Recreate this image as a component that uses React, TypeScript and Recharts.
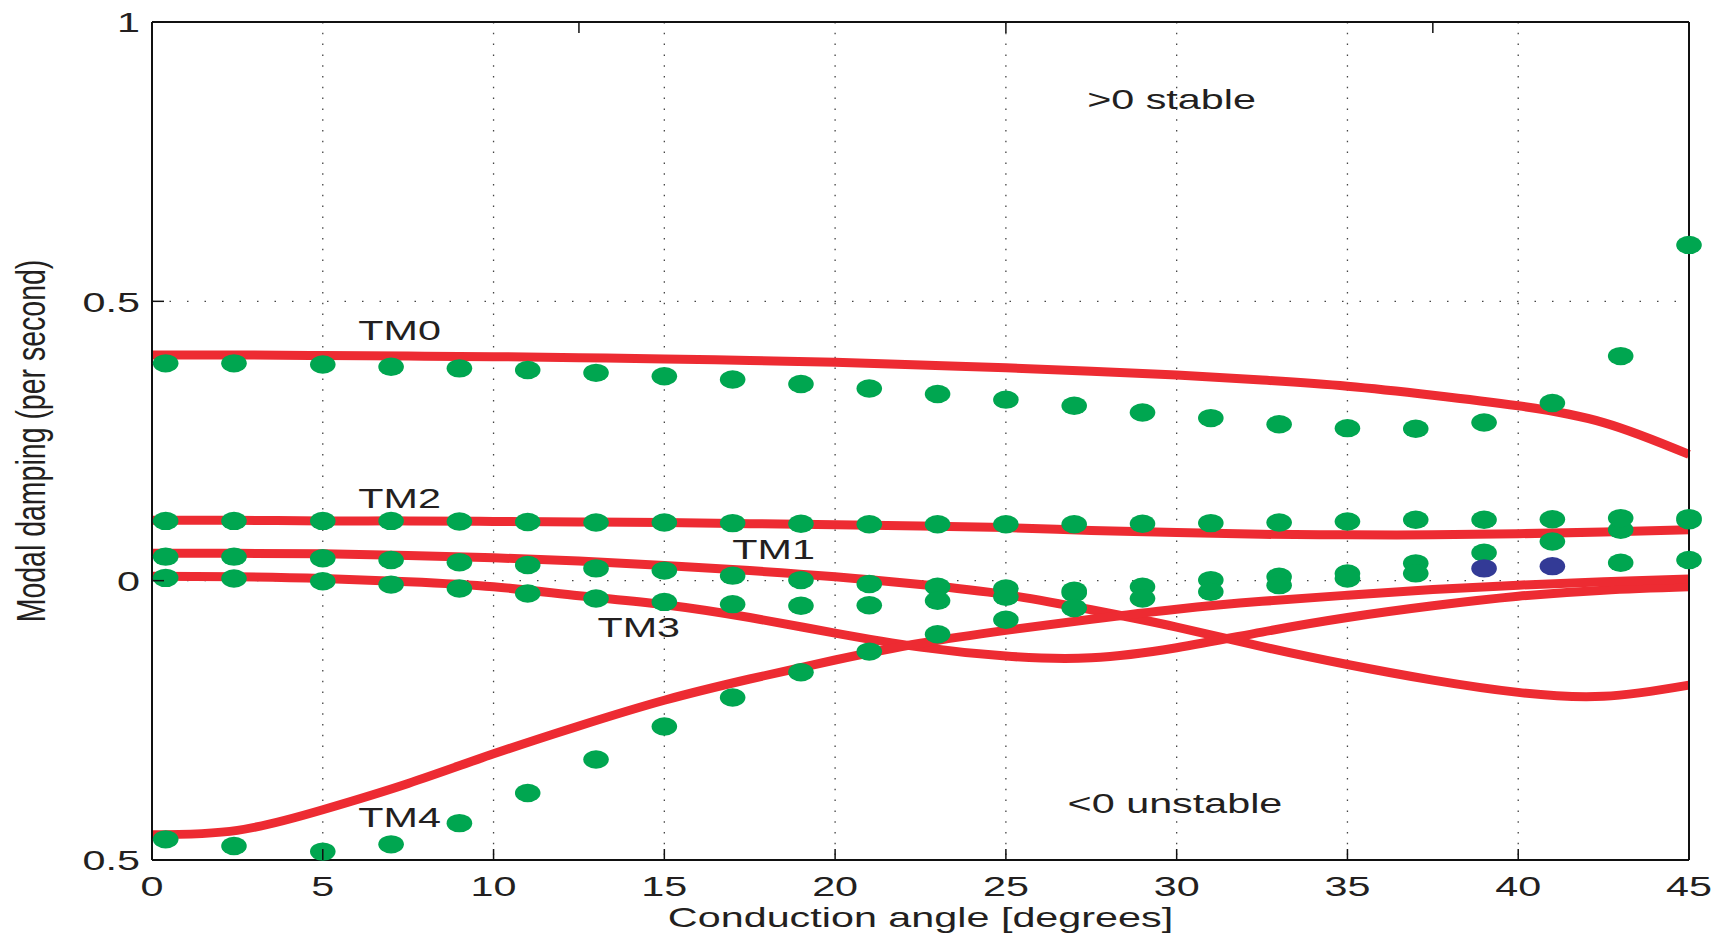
import React from "react";
import { ComposedChart, Line, Scatter, XAxis, YAxis, CartesianGrid } from "recharts";

// ---------- axis ticks ----------
const xTicks = [0, 5, 10, 15, 20, 25, 30, 35, 40, 45];
const xTickLabels = ["0", "5", "10", "15", "20", "25", "30", "35", "40", "45"];
const yTicks = [-0.5, 0, 0.5, 1];
const yTickLabels = ["0.5", "0", "0.5", "1"];

// ---------- red model curves ----------
const curveAngles = [0, 2.5, 5, 7.5, 10, 12.5, 15, 17.5, 20, 22.5, 25, 27.5, 30, 32.5, 35, 37.5, 40, 42.5, 45];
const tm0Curve = [0.404, 0.404, 0.403, 0.402, 0.401, 0.399, 0.397, 0.394, 0.391, 0.386, 0.381, 0.375, 0.368, 0.359, 0.348, 0.332, 0.313, 0.283, 0.226];
const tm2Curve = [0.108, 0.108, 0.107, 0.107, 0.106, 0.105, 0.104, 0.102, 0.1, 0.098, 0.095, 0.09, 0.086, 0.083, 0.082, 0.082, 0.084, 0.087, 0.091];
const tm1Curve = [0.049, 0.049, 0.048, 0.045, 0.041, 0.035, 0.027, 0.018, 0.007, -0.007, -0.025, -0.052, -0.083, -0.118, -0.15, -0.178, -0.2, -0.207, -0.187];
const tm3Curve = [0.008, 0.007, 0.004, -0.002, -0.011, -0.027, -0.043, -0.066, -0.094, -0.119, -0.135, -0.138, -0.12, -0.092, -0.066, -0.045, -0.028, -0.017, -0.011];
const tm4Curve = [-0.455, -0.447, -0.41, -0.363, -0.31, -0.26, -0.214, -0.176, -0.142, -0.112, -0.089, -0.069, -0.051, -0.037, -0.026, -0.016, -0.008, -0.002, 0.003];

// ---------- green measured dots ----------
const dotAngles = [0.4, 2.4, 5, 7, 9, 11, 13, 15, 17, 19, 21, 23, 25, 27, 29, 31, 33, 35, 37, 39, 41, 43, 45];
const tm0Dots = [0.389, 0.389, 0.387, 0.383, 0.38, 0.377, 0.372, 0.366, 0.36, 0.352, 0.344, 0.334, 0.324, 0.313, 0.301, 0.291, 0.28, 0.273, 0.272, 0.283, 0.318, 0.402, 0.601];
const tm2Dots = [0.107, 0.107, 0.107, 0.107, 0.106, 0.105, 0.104, 0.104, 0.103, 0.102, 0.101, 0.101, 0.101, 0.101, 0.102, 0.103, 0.104, 0.106, 0.109, 0.109, 0.11, 0.112, 0.112];
const tm1Dots = [0.043, 0.043, 0.04, 0.037, 0.033, 0.028, 0.022, 0.018, 0.009, 0.001, -0.006, -0.011, -0.014, -0.018, -0.011, 0.001, 0.007, 0.013, 0.031, 0.05, 0.07, 0.091, 0.108];
const tm3Dots = [0.005, 0.004, -0.001, -0.007, -0.014, -0.023, -0.032, -0.038, -0.042, -0.045, -0.044, -0.036, -0.029, -0.022, -0.032, -0.02, -0.008, 0.004, 0.013, null, null, 0.032, 0.037];
const tm4Dots = [-0.463, -0.475, -0.485, -0.472, -0.434, -0.38, -0.32, -0.261, -0.209, -0.164, -0.127, -0.096, -0.07, -0.049, null, null, null, null, null, null, null, null, null];

// ---------- blue dots ----------
const blueAngles = [39, 41];
const blueDots = [0.022, 0.026];

// ---------- annotations (data coordinates of text baseline centre) ----------
const modeLabels = ["TM0", "TM2", "TM1", "TM3", "TM4"];
const modeLabelX = [7.25, 7.25, 18.2, 14.25, 7.25];
const modeLabelY = [0.43, 0.13, 0.039, -0.1, -0.441];
const regionLabels = [">0 stable", "<0 unstable"];
const regionLabelX = [29.85, 29.95];
const regionLabelY = [0.844, -0.416];

// ---------- styling ----------
const W = 1728;
const H = 933;
const SX = 1.45;
const FONT = "'Liberation Sans', Arial, Helvetica, sans-serif";
const TEXT = "#231f20";
const RED = "#ed2b32";
const GREEN = "#00a650";
const BLUE = "#333a96";
const AXIS = "#111";

const curveData = curveAngles.map((x, i) => ({
  x,
  tm0: tm0Curve[i],
  tm1: tm1Curve[i],
  tm2: tm2Curve[i],
  tm3: tm3Curve[i],
  tm4: tm4Curve[i],
}));

const greenSeries = [tm0Dots, tm1Dots, tm2Dots, tm3Dots, tm4Dots];
const greenData = greenSeries.flatMap((arr) =>
  dotAngles.map((x, i) => ({ x, y: arr[i] })).filter((d) => d.y !== null)
);
const blueData = blueAngles.map((x, i) => ({ x, y: blueDots[i] }));
const labelData = [
  ...modeLabels.map((t, i) => ({ x: modeLabelX[i], y: modeLabelY[i], text: t })),
  ...regionLabels.map((t, i) => ({ x: regionLabelX[i], y: regionLabelY[i], text: t })),
];

function SText(props: any) {
  const { x, y, anchor = "middle", size = 28.5, dy, children } = props;
  return (
    <g transform={`translate(${x},${y}) scale(${SX},1)`}>
      <text x={0} y={0} dy={dy} textAnchor={anchor} fontSize={size} fontFamily={FONT} fill={TEXT}>
        {children}
      </text>
    </g>
  );
}

function findIdx(arr: number[], v: number) {
  return arr.findIndex((a) => Math.abs(a - v) < 1e-9);
}

const XTick = (props: any) => {
  const { x, y, payload } = props;
  const i = findIdx(xTicks, payload.value);
  return (
    <g>
      <line x1={x} y1={y} x2={x} y2={y - 11} stroke={AXIS} strokeWidth={1.5} />
      <SText x={x} y={y + 36}>{xTickLabels[i]}</SText>
    </g>
  );
};

const YTick = (props: any) => {
  const { x, y, payload } = props;
  const i = findIdx(yTicks, payload.value);
  return (
    <g>
      <line x1={x} y1={y} x2={x + 12} y2={y} stroke={AXIS} strokeWidth={1.5} />
      <SText x={x - 12} y={y} anchor="end" dy="0.36em">{yTickLabels[i]}</SText>
    </g>
  );
};

const XTitle = (props: any) => {
  const vb = props.viewBox || { x: 152, y: 860, width: 1537, height: 73 };
  return (
    <SText x={vb.x + vb.width / 2} y={vb.y + 67}>
      Conduction angle [degrees]
    </SText>
  );
};

const YTitle = (props: any) => {
  const vb = props.viewBox || { x: 0, y: 22, width: 152, height: 838 };
  const cx = vb.x + 45;
  const cy = vb.y + vb.height / 2;
  return (
    <g transform={`translate(${cx},${cy}) scale(${SX},1) rotate(-90)`}>
      <text x={0} y={0} textAnchor="middle" fontSize={28.5} fontFamily={FONT} fill={TEXT}>
        Modal damping (per second)
      </text>
    </g>
  );
};

const greenShape = (p: any) => <ellipse cx={p.cx} cy={p.cy} rx={12.8} ry={9.2} fill={GREEN} />;
const blueShape = (p: any) => <ellipse cx={p.cx} cy={p.cy} rx={12.8} ry={9.2} fill={BLUE} />;
const labelShape = (p: any) => {
  const t = (p.payload && p.payload.text) || p.text;
  return <SText x={p.cx} y={p.cy}>{t}</SText>;
};
const noTick = () => <g />;

export default function App() {
  return (
    <div style={{ position: "absolute", left: 0, top: 0, width: W, height: H, background: "#fff" }}>
      <ComposedChart
        width={W}
        height={H}
        data={curveData}
        margin={{ top: 22, right: 39, bottom: 0, left: 0 }}
      >
        <CartesianGrid horizontal={false} stroke="#444" strokeWidth={1.3} strokeDasharray="1.5 9.3" />
        <CartesianGrid vertical={false} stroke="#444" strokeWidth={1.3} strokeDasharray="1.5 16" />
        <XAxis
          dataKey="x"
          type="number"
          domain={[0, 45]}
          ticks={xTicks}
          height={73}
          tickSize={0}
          tickMargin={0}
          tickLine={false}
          axisLine={{ stroke: AXIS, strokeWidth: 2 }}
          tick={<XTick />}
          interval={0}
          label={{ content: XTitle }}
        />
        <XAxis
          xAxisId="top"
          orientation="top"
          mirror
          type="number"
          domain={[0, 45]}
          ticks={xTicks}
          tickSize={11}
          tick={noTick}
          tickLine={{ stroke: AXIS, strokeWidth: 1.5 }}
          axisLine={{ stroke: AXIS, strokeWidth: 2 }}
          interval={0}
        />
        <YAxis
          type="number"
          domain={[-0.5, 1]}
          ticks={yTicks}
          width={152}
          tickSize={0}
          tickMargin={0}
          tickLine={false}
          axisLine={{ stroke: AXIS, strokeWidth: 2 }}
          tick={<YTick />}
          interval={0}
          label={{ content: YTitle }}
        />
        <YAxis
          yAxisId="right"
          orientation="right"
          mirror
          type="number"
          domain={[-0.5, 1]}
          ticks={yTicks}
          tickSize={12}
          tick={noTick}
          tickLine={{ stroke: AXIS, strokeWidth: 1.5 }}
          axisLine={{ stroke: AXIS, strokeWidth: 2 }}
          interval={0}
        />
        <Line dataKey="tm0" type="natural" stroke={RED} strokeWidth={9} dot={false} activeDot={false} isAnimationActive={false} />
        <Line dataKey="tm2" type="natural" stroke={RED} strokeWidth={9} dot={false} activeDot={false} isAnimationActive={false} />
        <Line dataKey="tm1" type="natural" stroke={RED} strokeWidth={9} dot={false} activeDot={false} isAnimationActive={false} />
        <Line dataKey="tm3" type="natural" stroke={RED} strokeWidth={9} dot={false} activeDot={false} isAnimationActive={false} />
        <Line dataKey="tm4" type="natural" stroke={RED} strokeWidth={9} dot={false} activeDot={false} isAnimationActive={false} />
        <Scatter data={greenData} dataKey="y" shape={greenShape} isAnimationActive={false} />
        <Scatter data={blueData} dataKey="y" shape={blueShape} isAnimationActive={false} />
        <Scatter data={labelData} dataKey="y" shape={labelShape} isAnimationActive={false} />
      </ComposedChart>
    </div>
  );
}
